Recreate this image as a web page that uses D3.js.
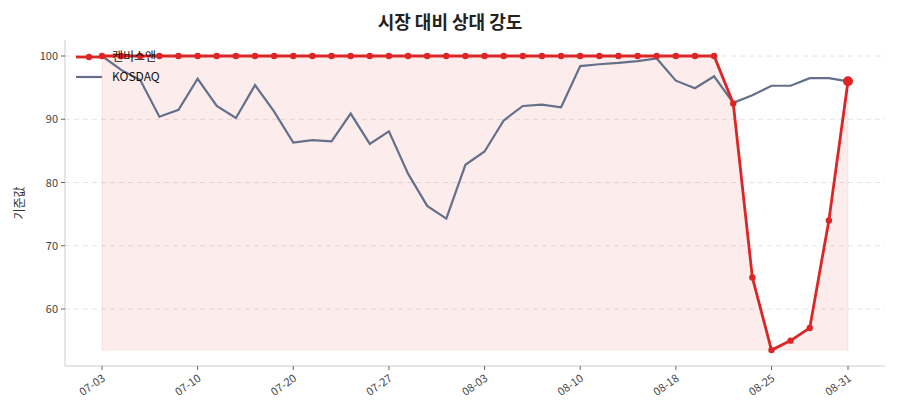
<!DOCTYPE html>
<html><head><meta charset="utf-8">
<script src="https://cdn.jsdelivr.net/npm/d3@7"></script>
<style>body{margin:0;background:#fff;font-family:"Noto Sans CJK KR","Noto Sans",sans-serif;}</style>
</head><body><div class="main"></div>
<script>
var dates = ["07-03","07-04","07-05","07-06","07-07","07-10","07-11","07-12","07-13","07-14",
  "07-20","07-21","07-22","07-23","07-24","07-27","07-28","07-29","07-30","07-31",
  "08-03","08-04","08-05","08-06","08-07","08-10","08-11","08-12","08-13","08-14",
  "08-18","08-19","08-20","08-21","08-24","08-25","08-26","08-27","08-28","08-31"];
var tickIdx = [0,5,10,15,20,25,30,35,39];
var stock = [100,100,100,100,100,100,100,100,100,100,100,100,100,100,100,100,100,100,100,100,
  100,100,100,100,100,100,100,100,100,100,100,100,100,92.5,65,53.5,55,57,74,96];
var kosdaq = [100,97.8,96.2,90.4,91.5,96.4,92.1,90.2,95.4,91.2,86.3,86.7,86.5,90.9,86.1,88.1,81.4,76.3,74.3,82.8,
  84.9,89.8,92.1,92.3,91.9,98.4,98.7,98.9,99.2,99.6,96.1,94.9,96.8,92.6,93.8,95.3,95.3,96.5,96.5,96.0];
var yTicks = [60,70,80,90,100];

var W = 900, H = 420, L = 65, R = 885, T = 40, B = 366;
var svg = d3.select(".main").append("svg").attr("width", W).attr("height", H);
var x = d3.scaleLinear().domain([0, 39]).range([102, 848]);
var y = d3.scaleLinear().domain([100, 60]).range([56, 309]);

svg.append("text").attr("x", 450).attr("y", 29).attr("text-anchor", "middle")
  .attr("font-size", 18).attr("font-weight", "bold").attr("fill", "#222").text("시장 대비 상대 강도");

// grid
svg.selectAll(".grid").data(yTicks).enter().append("line")
  .attr("x1", L).attr("x2", R).attr("y1", y).attr("y2", y)
  .attr("stroke", "#ddd").attr("stroke-dasharray", "5,4").attr("stroke-width", 0.8);

// fill
var mn = d3.min(stock);
svg.append("path").datum(stock)
  .attr("d", d3.area().x(function(d, i) { return x(i); }).y0(y(mn)).y1(function(d) { return y(d); }))
  .attr("fill", "#e02a2a").attr("fill-opacity", 0.09).attr("stroke", "#e02a2a").attr("stroke-opacity", 0.08);

var line = d3.line().x(function(d, i) { return x(i); }).y(function(d) { return y(d); });
svg.append("path").datum(kosdaq).attr("d", line).attr("fill", "none")
  .attr("stroke", "#64708a").attr("stroke-width", 2.2);
svg.append("path").datum(stock).attr("d", line).attr("fill", "none")
  .attr("stroke", "#dc2626").attr("stroke-width", 2.8);
svg.selectAll(".dot").data(stock).enter().append("circle")
  .attr("cx", function(d, i) { return x(i); }).attr("cy", function(d) { return y(d); })
  .attr("r", function(d, i) { return i === 39 ? 5 : 3.2; }).attr("fill", "#dc2626");

// axes
svg.append("line").attr("x1", L).attr("x2", L).attr("y1", T).attr("y2", B).attr("stroke", "#ccc");
svg.append("line").attr("x1", L).attr("x2", R).attr("y1", B).attr("y2", B).attr("stroke", "#ccc");
var yg = svg.selectAll(".yt").data(yTicks).enter().append("g");
yg.append("line").attr("x1", L - 4).attr("x2", L).attr("y1", y).attr("y2", y).attr("stroke", "#666");
yg.append("text").attr("x", L - 7).attr("y", function(d) { return y(d) + 4; }).attr("text-anchor", "end")
  .attr("font-size", 11).attr("fill", "#444").text(function(d) { return d; });
var xg = svg.selectAll(".xt").data(tickIdx).enter().append("g");
xg.append("line").attr("x1", x).attr("x2", x).attr("y1", B).attr("y2", B + 4).attr("stroke", "#666");
xg.append("text").attr("transform", function(d) { return "translate(" + (x(d) + 4) + "," + (B + 14) + ") rotate(-35)"; })
  .attr("text-anchor", "end").attr("font-size", 11).attr("fill", "#444").text(function(d) { return dates[d]; });
svg.append("text").attr("transform", "translate(24," + ((T + B) / 2) + ") rotate(-90)")
  .attr("text-anchor", "middle").attr("font-size", 12).attr("fill", "#333").text("기준값");

// legend
svg.append("line").attr("x1", 76).attr("x2", 102).attr("y1", 57).attr("y2", 57).attr("stroke", "#dc2626").attr("stroke-width", 2.8);
svg.append("circle").attr("cx", 89).attr("cy", 57).attr("r", 3.2).attr("fill", "#dc2626");
svg.append("text").attr("x", 112).attr("y", 61).attr("font-size", 12).attr("fill", "#111").text("켄비스앤");
svg.append("line").attr("x1", 76).attr("x2", 102).attr("y1", 77).attr("y2", 77).attr("stroke", "#64708a").attr("stroke-width", 2.2);
svg.append("text").attr("x", 112).attr("y", 81).attr("font-size", 12).attr("fill", "#111").text("KOSDAQ");
</script></body></html>
